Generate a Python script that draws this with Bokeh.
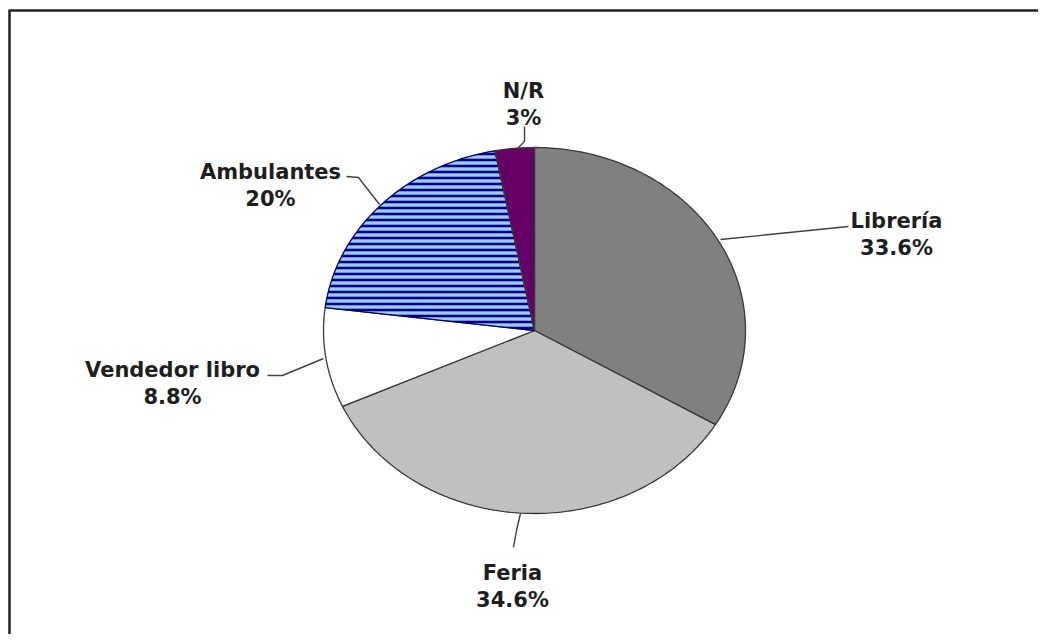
import numpy as np
from bokeh.plotting import figure
from bokeh.models import Range1d, ColumnDataSource
from bokeh.core.properties import value
from bokeh.embed import file_html
from bokeh.resources import INLINE

# ---- data ----
categories = ["Librería", "Feria", "Vendedor libro", "Ambulantes", "N/R"]
shares = [33.6, 34.6, 8.8, 20.0, 3.0]
pct_labels = ["33.6%", "34.6%", "8.8%", "20%", "3%"]

# ---- styles / layout ----
fills = ["#808080", "#C0C0C0", "#FFFFFF", "#9CCDF5", "#660066"]
hatches = [" ", " ", " ", "-", " "]
hatch_cols = ["#000000", "#000000", "#000000", "#00008B", "#000000"]
lines = ["#383838", "#383838", "#383838", "#000060", "#383838"]
cx, cy, rx, ry = 534.0, 330.0, 211.0, 183.0
label_x = [896, 512, 172, 270, 523]
label_base = [220, 572, 369, 171, 90]
line_gap = 27
leaders_x = [[848, 720], [520, 516, 513], [267, 282, 323], [346, 358, 379], [524, 524, 517]]
leaders_y = [[226, 239], [513, 530, 547], [375, 375, 358], [176, 177, 204], [126, 141, 148]]

W, H = 1038, 634
p = figure(width=W, height=H, output_backend="svg", toolbar_location=None,
           x_range=Range1d(0, W), y_range=Range1d(H, 0), min_border=0)
p.axis.visible = False
p.grid.visible = False
p.outline_line_color = None
p.background_fill_color = "white"
p.border_fill_color = "white"

# slices: elliptical wedges from 12 o'clock, clockwise
vals = np.array(shares, dtype=float)
ends = np.cumsum(vals) / vals.sum() * 2 * np.pi
starts = np.concatenate([[0.0], ends[:-1]])
xs, ys = [], []
for a0, a1 in zip(starts, ends):
    n = max(int((a1 - a0) / (2 * np.pi) * 400), 4)
    t = np.linspace(a0, a1, n)
    px = cx + rx * np.sin(t)
    py = cy - ry * np.cos(t)
    xs.append([cx] + list(px) + [cx])
    ys.append([cy] + list(py) + [cy])

src = ColumnDataSource(dict(xs=xs, ys=ys, fill=fills, hatch=hatches,
                            hcol=hatch_cols, lc=lines))
p.patches("xs", "ys", source=src, fill_color="fill", line_color="lc", line_width=1.3,
          hatch_pattern="hatch", hatch_color="hcol", hatch_scale=6, hatch_weight=2.6)

# leader lines
p.multi_line(leaders_x, leaders_y, line_color="#404040", line_width=1.4)

# labels
name_src = ColumnDataSource(dict(x=label_x, y=label_base, t=categories))
pct_src = ColumnDataSource(dict(x=label_x, y=[b + line_gap for b in label_base], t=pct_labels))
for s in (name_src, pct_src):
    p.text("x", "y", text="t", source=s, text_align="center", text_baseline="alphabetic",
           text_font=value("DejaVu Sans"), text_font_style="bold",
           text_font_size="21px", text_color="#1e1e1e")

# frame lines (top and left)
p.segment(x0=[8, 9], y0=[10, 10], x1=[W, 9], y1=[10, H], line_color="#222222", line_width=2.5)

open("out.html", "w").write(file_html(p, INLINE))
